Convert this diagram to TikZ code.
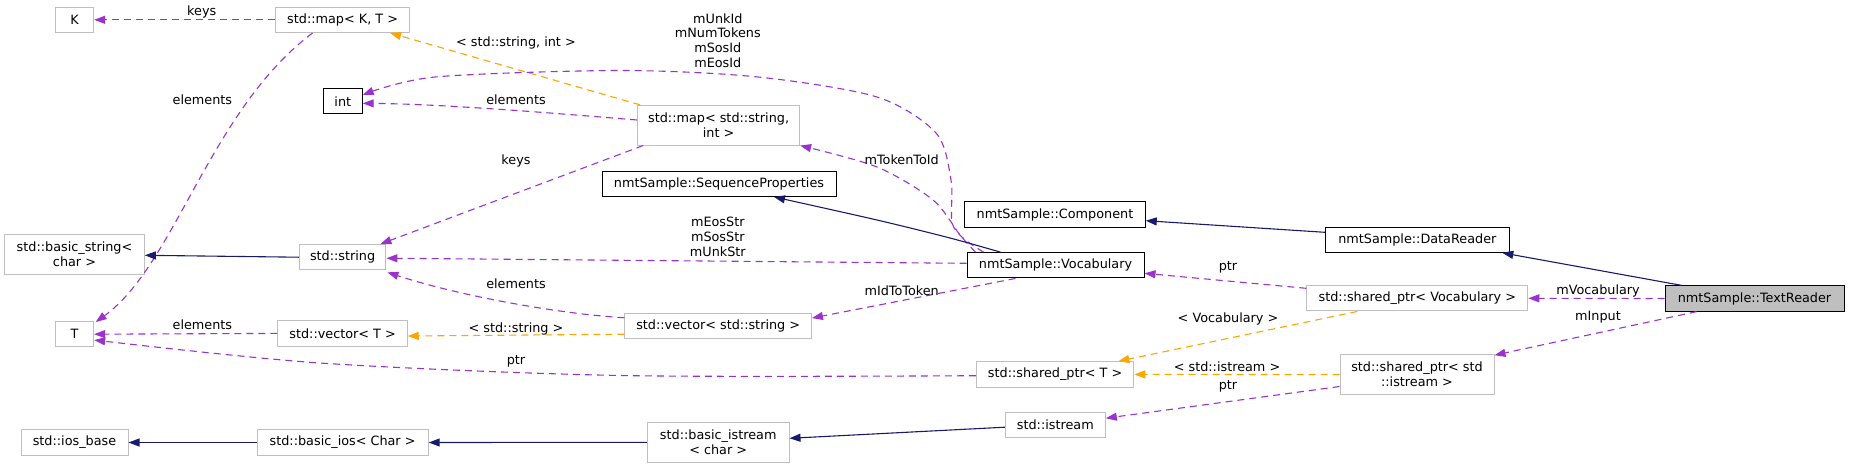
\documentclass[tikz,border=0pt]{standalone}
\usepackage{fontspec}
\setmainfont{DejaVu Sans}
\usetikzlibrary{arrows.meta}
\definecolor{cpurple}{HTML}{9A32CD}
\definecolor{corange}{HTML}{FFA500}
\definecolor{cnavy}{HTML}{191970}
\definecolor{cgrey}{HTML}{BFBFBF}
\begin{document}
\begin{tikzpicture}[x=1pt,y=-1pt,
  every node/.style={font=\fontsize{12.8}{15}\selectfont},
  cls/.style={draw=cgrey, line width=1pt, inner sep=0pt, minimum height=25.3pt, align=center, fill=white},
  doc/.style={cls, draw=black},
  lbl/.style={inner sep=0pt, align=center},
  arr/.style={-{Triangle[length=11pt,width=8pt]}},
  euse/.style={arr, draw=cpurple, line width=1.1pt, dash pattern=on 7pt off 5pt},
  etmpl/.style={arr, draw=corange, line width=1.1pt, dash pattern=on 7pt off 5pt},
  einh/.style={arr, draw=cnavy, line width=1.1pt}]
\useasboundingbox (0,0) rectangle (1849,469);

% nodes
\node[cls, minimum width=38.3pt] (K) at (74.5,19.8) {K};
\node[cls, minimum width=134pt] (mapKT) at (342.6,19.8) {std::map< K, T >};
\node[doc, minimum width=38.8pt] (int) at (342.8,101.3) {int};
\node[cls, minimum width=162pt, minimum height=39.7pt] (mapSI) at (718.6,125.2) {std::map< std::string,\\ int >};
\node[doc, minimum width=234pt] (seq) at (719,183.8) {nmtSample::SequenceProperties};
\node[doc, minimum width=180.5pt] (comp) at (1055,214.5) {nmtSample::Component};
\node[doc, minimum width=183.8pt] (dr) at (1417.3,239.7) {nmtSample::DataReader};
\node[cls, minimum width=139.6pt, minimum height=40pt] (bstr) at (74.5,254.3) {std::basic\_string<\\ char >};
\node[cls, minimum width=86.6pt] (str) at (342.6,257.2) {std::string};
\node[doc, minimum width=177pt] (voc) at (1055.5,265.3) {nmtSample::Vocabulary};
\node[cls, minimum width=221pt] (spv) at (1417.3,298.3) {std::shared\_ptr< Vocabulary >};
\node[doc, fill=cgrey, minimum width=179pt] (tr) at (1754.5,298.5) {nmtSample::TextReader};
\node[cls, minimum width=38.3pt] (T) at (74.5,334.2) {T};
\node[cls, minimum width=129.3pt] (vecT) at (342.6,333.4) {std::vector< T >};
\node[cls, minimum width=186.5pt] (vecS) at (718.2,326.2) {std::vector< std::string >};
\node[cls, minimum width=157.4pt] (spT) at (1055.1,374.4) {std::shared\_ptr< T >};
\node[cls, minimum width=154pt, minimum height=39.6pt] (spI) at (1417,374.5) {std::shared\_ptr< std\\ ::istream >};
\node[cls, minimum width=100pt] (ist) at (1055.3,425.2) {std::istream};
\node[cls, minimum width=141.6pt, minimum height=40pt] (bist) at (718.2,442.3) {std::basic\_istream\\ < char >};
\node[cls, minimum width=171.2pt] (bios) at (342.6,442.5) {std::basic\_ios< Char >};
\node[cls, minimum width=107pt] (iosb) at (74.5,442.5) {std::ios\_base};

% edges
\draw[euse] (mapKT.west) -- (K.east);
\draw[euse] ([xshift=-30pt]mapKT.south) .. controls (210,110) and (175,265) .. ([xshift=1.5pt,yshift=-1pt]T.north east);
\draw[etmpl] ([xshift=3pt]mapSI.north west) -- ([xshift=-20pt]mapKT.south east);
\draw[euse] ([yshift=5.2pt]mapSI.west) .. controls (540,112) and (440,104) .. ([yshift=-2pt]int.east);
\draw[euse] plot[smooth] coordinates {([xshift=-72pt]voc.north) (963,238) (952,222) (951,180) (936,133) (877,97) (758,77) (620,70.5) (435,77) ([yshift=6.3pt]int.east)};
\draw[euse] plot[smooth] coordinates {([xshift=-80pt]voc.north) (960,235) (933,200) (877,167) (mapSI.south east)};
\draw[einh] plot[smooth] coordinates {([xshift=-55pt]voc.north) (950,238) (877,220) ([xshift=55pt]seq.south)};
\draw[euse] ([yshift=2pt]voc.west) -- ([yshift=-1pt]str.east);
\draw[euse] ([xshift=-40pt]voc.south) -- ([yshift=-5pt]vecS.north east);
\draw[euse] ([xshift=6pt]mapSI.south west) -- ([xshift=-6pt]str.north east);
\draw[einh] (str.west) -- ([yshift=-1pt]bstr.east);
\draw[euse] ([yshift=-4.7pt]vecS.north west) .. controls (560,314) and (460,296) .. ([xshift=1pt,yshift=-2pt]str.south east);
\draw[etmpl] ([yshift=-8pt]vecS.west) -- ([yshift=-2.6pt]vecT.east);
\draw[euse] (vecT.west) -- (T.east);
\draw[euse] plot[smooth] coordinates {([yshift=-1.3pt]spT.west) (620,375.5) (320,363) ([yshift=-5.8pt]T.east)};
\draw[etmpl] ([xshift=-60pt]spv.south) -- ([xshift=-16pt]spT.north east);
\draw[etmpl] (spI.west) -- (spT.east);
\draw[euse] ([yshift=-12pt]spI.west) -- ([yshift=7pt]ist.east);
\draw[einh] ([yshift=-2pt]ist.west) -- ([yshift=4pt]bist.east);
\draw[einh] (bist.west) -- (bios.east);
\draw[einh] (bios.west) -- (iosb.east);
\draw[euse] ([yshift=10pt]spv.west) -- ([yshift=-8pt]voc.east);
\draw[euse] (tr.west) -- (spv.east);
\draw[euse] ([xshift=-58pt]tr.south) -- ([yshift=-1pt]spI.north east);
\draw[einh] ([xshift=-73pt]tr.north) -- ([xshift=85pt]dr.south);
\draw[einh] ([yshift=7.4pt]dr.west) -- ([yshift=-6.2pt]comp.east);

% labels
\node[lbl] at (201.7,11.7) {keys};
\node[lbl] at (202.4,99.3) {elements};
\node[lbl] at (516,43.3) {< std::string, int >};
\node[lbl, font=\fontsize{12.8}{14.7}\selectfont] at (717.8,40.3) {mUnkId\\mNumTokens\\mSosId\\mEosId};
\node[lbl] at (516,100) {elements};
\node[lbl] at (516,160.7) {keys};
\node[lbl] at (901.7,160) {mTokenToId};
\node[lbl] at (717.8,236.7) {mEosStr\\mSosStr\\mUnkStr};
\node[lbl] at (516,283.3) {elements};
\node[lbl] at (516,329) {< std::string >};
\node[lbl] at (202.4,325) {elements};
\node[lbl] at (516,361) {ptr};
\node[lbl] at (901.7,290.7) {mIdToToken};
\node[lbl] at (1228,267.7) {ptr};
\node[lbl] at (1228,319.3) {< Vocabulary >};
\node[lbl] at (1227,366.7) {< std::istream >};
\node[lbl] at (1228,386.7) {ptr};
\node[lbl] at (1598,291) {mVocabulary};
\node[lbl] at (1598,316.7) {mInput};
\end{tikzpicture}
\end{document}
